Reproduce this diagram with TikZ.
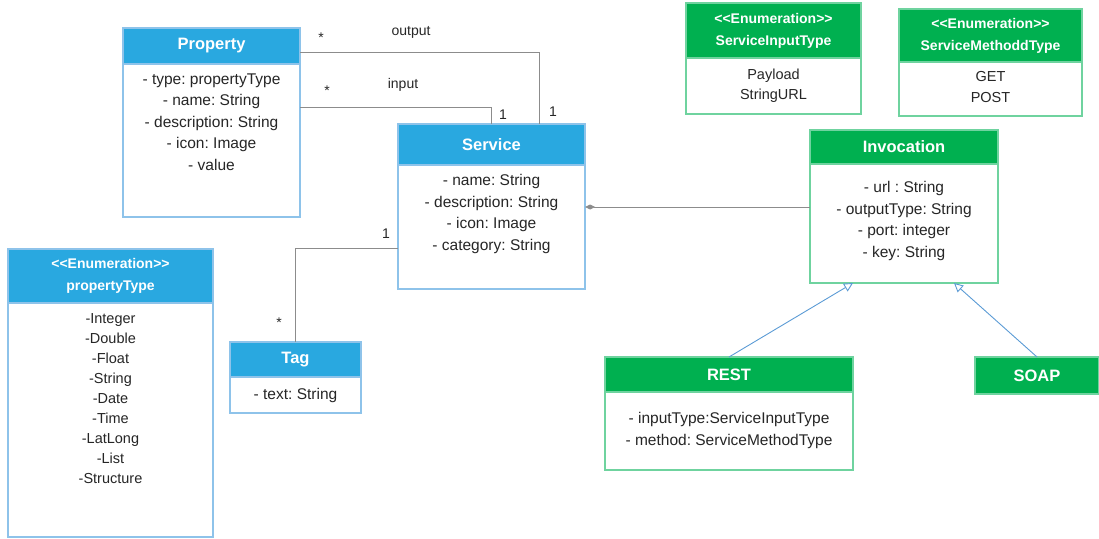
\documentclass[tikz,border=0pt]{standalone}
\usepackage{fontspec}
\setmainfont{Liberation Sans}
\frenchspacing
\usetikzlibrary{arrows.meta, positioning}
\definecolor{umlblue}{HTML}{29A8E0}
\definecolor{umlblueline}{HTML}{8EC3EA}
\definecolor{umlgreen}{HTML}{00B050}
\definecolor{umlgreenline}{HTML}{6FD39F}
\definecolor{txt}{HTML}{262626}
\definecolor{wire}{HTML}{8C8C8C}
\definecolor{genline}{HTML}{5B9BD5}
\tikzstyle{head} = [rectangle, draw=umlblueline, line width=1.2pt, fill=umlblue,
    text=white, font=\fontsize{16.5}{20}\selectfont\bfseries, align=center,
    anchor=north west, inner sep=0pt, outer sep=0pt]
\tikzstyle{enumhead} = [head, font=\fontsize{14}{22}\selectfont\bfseries]
\tikzstyle{body} = [rectangle, draw=umlblueline, line width=1.2pt, fill=white,
    inner sep=0pt, outer sep=0pt]
\tikzstyle{attr} = [text=txt, font=\fontsize{15.5}{21.5}\selectfont, align=center,
    inner sep=0pt, execute at begin node=\strut]

\begin{document}
\begin{tikzpicture}[
x=1pt, y=-1pt,
green/.style = {draw=umlgreenline, fill=umlgreen},
greenbody/.style = {body, draw=umlgreenline},
enumattr/.style = {attr, font=\fontsize{14.5}{20}\selectfont},
lbl/.style = {text=txt, font=\fontsize{14}{16}\selectfont, inner sep=0pt},
wire/.style = {draw=wire, line width=1pt},
gen/.style = {draw=genline, line width=0.9pt,
  -{Triangle[open, length=9pt, width=9pt, fill=white]}}
                        ]
\useasboundingbox (0,0) rectangle (1099,538);

% blue classes
\node [head, minimum width=177pt, minimum height=36pt] (propH) at (123,28) {Property};
\node [body, below=0pt of propH, minimum width=177pt, minimum height=153pt] (propB) {};
\node [attr, below=9.5pt of propB.north] (propT) {- type: propertyType\\ - name: String\\
  - description: String\\ - icon: Image\\ - value};

\node [head, minimum width=187pt, minimum height=41pt] (servH) at (398,124) {Service};
\node [body, below=0pt of servH, minimum width=187pt, minimum height=124pt] (servB) {};
\node [attr, below=9.5pt of servB.north] (servT) {- name: String\\ - description: String\\
  - icon: Image\\ - category: String};

\node [enumhead, minimum width=205pt, minimum height=54pt] (ptH) at (8,249)
  {<{}<Enumeration>{}>\\ propertyType};
\node [body, below=0pt of ptH, minimum width=205pt, minimum height=234pt] (ptB) {};
\node [enumattr, below=10pt of ptB.north] (ptT) {-Integer\\ -Double\\ -Float\\ -String\\
  -Date\\ -Time\\ -LatLong\\ -List\\ -Structure};

\node [head, minimum width=131pt, minimum height=35pt] (tagH) at (230,342) {Tag};
\node [body, below=0pt of tagH, minimum width=131pt, minimum height=36pt] (tagB) {};
\node [attr, below=7.5pt of tagB.north] (tagT) {- text: String};

% green classes
\node [enumhead, green, minimum width=175pt, minimum height=55pt] (sitH) at (686,3)
  {<{}<Enumeration>{}>\\ ServiceInputType};
\node [greenbody, below=0pt of sitH, minimum width=175pt, minimum height=56pt] (sitB) {};
\node [enumattr, below=10.5pt of sitB.north] (sitT) {Payload\\ StringURL};

\node [enumhead, green, minimum width=183pt, minimum height=53pt] (smtH) at (899,9)
  {<{}<Enumeration>{}>\\ ServiceMethoddType};
\node [greenbody, below=0pt of smtH, minimum width=183pt, minimum height=54pt] (smtB) {};
\node [enumattr, font=\fontsize{14.5}{21}\selectfont, below=9pt of smtB.north] (smtT)
  {GET\\ POST};

\node [head, green, minimum width=188pt, minimum height=34pt] (invH) at (810,130) {Invocation};
\node [greenbody, below=0pt of invH, minimum width=188pt, minimum height=119pt] (invB) {};
\node [attr, below=17.5pt of invB.north] (invT) {- url : String\\ - outputType: String\\
  - port: integer\\ - key: String};

\node [head, green, minimum width=248pt, minimum height=35pt] (restH) at (605,357) {REST};
\node [greenbody, below=0pt of restH, minimum width=248pt, minimum height=78pt] (restB) {};
\node [attr, below=20.5pt of restB.north] (restT) {- inputType:ServiceInputType\\
  - method: ServiceMethodType};

\node [head, green, minimum width=124pt, minimum height=37pt] (soapH) at (975,357) {SOAP};

% associations
\draw [wire] ([yshift=-6pt]propH.east) -| ([xshift=47.5pt]servH.north);
\draw [wire] ([yshift=-43pt]propB.north east) -| (servH.north);
\draw [wire] ([yshift=-21pt]servB.west) -| (tagH.north);
\coordinate (agg) at ([yshift=16.5pt]invB.west);
\draw [wire, {Diamond[length=10pt, width=5pt, fill=wire]}-] (agg -| servB.east) -- (agg);

% generalisations
\draw [gen] (restH.north) -- ([xshift=-51pt]invB.south);
\draw [gen] (soapH.north) -- ([xshift=50pt]invB.south);

% multiplicities and roles
\node [lbl] (outStar) at (321,38) {*};
\node [lbl] (outRole) at (411,32) {output};
\node [lbl] (outOne) at (553,112) {1};
\node [lbl] (inStar) at (327,91) {*};
\node [lbl] (inRole) at (403,85) {input};
\node [lbl] (inOne) at (503,115) {1};
\node [lbl] (tagOne) at (386,234) {1};
\node [lbl] (tagStar) at (279,323) {*};
\end{tikzpicture}
\end{document}
